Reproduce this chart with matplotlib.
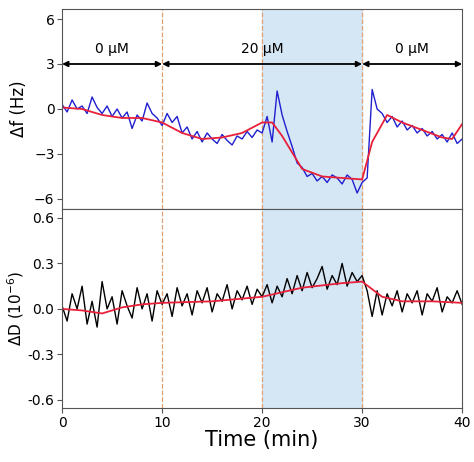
import numpy as np
import matplotlib
matplotlib.use("Agg")
import matplotlib.pyplot as plt

t = np.arange(0, 40.01, 0.5)
df = [0.3,-0.2,0.6,0.0,0.2,-0.3,0.8,0.1,-0.3,0.2,-0.5,0.0,-0.6,-0.2,-1.3,-0.4,-0.8,0.4,-0.3,-0.6,-1.1,
      -0.3,-0.9,-0.5,-1.6,-1.2,-2.0,-1.5,-2.2,-1.6,-2.0,-2.3,-1.7,-2.1,-2.4,-1.8,-2.0,-1.5,-1.9,-1.4,-1.6,
      -0.5,-2.2,1.2,-0.4,-1.5,-2.5,-3.6,-3.9,-4.5,-4.3,-4.8,-4.5,-4.9,-4.4,-4.6,-5.0,-4.4,-4.7,-5.6,-4.9,
      -4.6,1.3,0.0,-0.3,-0.9,-0.5,-1.2,-0.8,-1.4,-1.1,-1.6,-1.3,-1.8,-1.5,-2.0,-1.7,-2.2,-1.6,-2.3,-2.0]
fit_t = [0,2,4,6,8,10,12,14,16,18,20,21,22,24,26,28,30,31,32.5,34,36,38,39,40]
fit_f = [0.1,0.0,-0.4,-0.6,-0.6,-0.9,-1.6,-2.0,-1.9,-1.6,-0.9,-0.9,-1.8,-4.0,-4.5,-4.6,-4.7,-2.2,-0.4,-0.9,-1.4,-1.9,-2.0,-1.0]
dD = [0.02,-0.08,0.1,0.0,0.15,-0.1,0.05,-0.12,0.18,0.0,0.08,-0.1,0.12,0.02,-0.06,0.14,0.0,0.1,-0.08,0.12,0.03,
      0.1,-0.05,0.14,0.02,0.1,-0.04,0.12,0.04,0.14,-0.02,0.1,0.05,0.16,0.0,0.12,0.06,0.15,0.03,0.13,0.08,
      0.16,0.04,0.15,0.08,0.2,0.1,0.22,0.12,0.24,0.14,0.2,0.28,0.13,0.22,0.16,0.3,0.15,0.24,0.18,0.22,
      0.12,-0.05,0.12,-0.04,0.1,0.02,0.12,-0.02,0.1,0.04,0.12,-0.04,0.1,0.05,0.14,-0.02,0.08,0.04,0.12,0.03]
fit_tD = [0,2,4,6,8,10,15,20,24,28,30,32,34,37,40]
fit_D = [0.0,-0.01,-0.03,0.01,0.03,0.04,0.05,0.08,0.14,0.17,0.18,0.08,0.05,0.05,0.04]
regions = [(0,10,'0 μM'),(10,30,'20 μM'),(30,40,'0 μM')]

fig = plt.figure(figsize=(4.74,4.62), dpi=100)
ax1 = fig.add_axes([0.131,0.5476,0.844,0.433])
ax2 = fig.add_axes([0.131,0.117,0.844,0.431])
for ax in (ax1, ax2):
    ax.axvspan(20,30,color='#d5e6f5',zorder=0)
    for x in (10,20,30):
        ax.axvline(x,color='#e0a070',ls='--',lw=0.9,zorder=1)
    ax.set_xlim(0,40)
    for s in ax.spines.values():
        s.set_color('#555555')
    ax.tick_params(direction='out', labelsize=10, color='#555555', pad=2)
ax1.plot(t, df, color='#1f1fcf', lw=1)
ax1.plot(fit_t, fit_f, color='#e8203a', lw=1.3)
ax1.set_ylim(-6.67,6.67)
ax1.set_yticks([-6,-3,0,3,6])
ax1.set_xticks([])
ax1.set_ylabel('Δf (Hz)', fontsize=12, labelpad=4)
for a,b,lab in regions:
    ax1.annotate('', xy=(a,3), xytext=(b,3), arrowprops=dict(arrowstyle='<|-|>',color='black',lw=1.3,shrinkA=0,shrinkB=0,mutation_scale=8))
    ax1.text((a+b)/2,4.0,lab,ha='center',va='center',fontsize=10)
ax2.plot(t, dD, color='black', lw=1)
ax2.plot(fit_tD, fit_D, color='#e8203a', lw=1.3)
ax2.set_ylim(-0.653,0.66)
ax2.set_yticks([-0.6,-0.3,0.0,0.3,0.6])
ax2.set_yticklabels(['-0.6','-0.3','0.0','0.3','0.6'])
ax2.set_xticks([0,10,20,30,40])
ax2.set_ylabel('ΔD (10$^{-6}$)', fontsize=11, labelpad=1)
ax2.set_xlabel('Time (min)', fontsize=15, labelpad=0)
fig.savefig('out.png', dpi=100)
